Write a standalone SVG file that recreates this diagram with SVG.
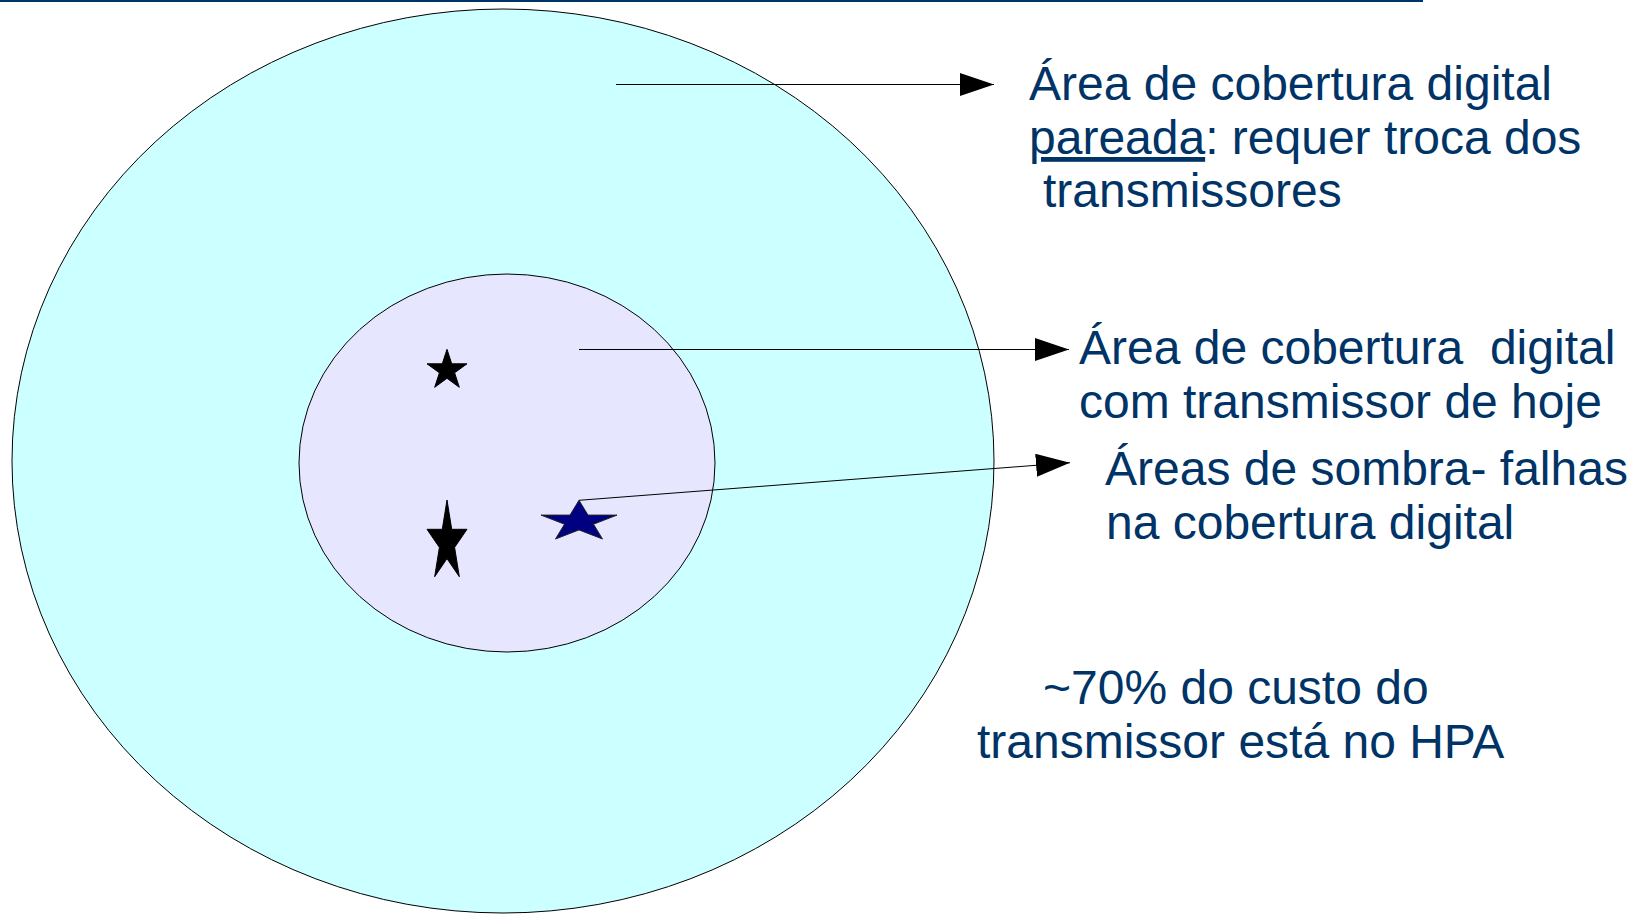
<svg xmlns="http://www.w3.org/2000/svg" width="1641" height="915" viewBox="0 0 1641 915">
<style>
.lbl{font-family:"Liberation Sans",Arial,sans-serif;font-size:48px;fill:#003366;white-space:pre}
.conn{stroke:#000;stroke-width:1;fill:none}
.star{fill:#000;stroke:#000;stroke-width:1}
</style>
<defs>
<marker id="ah" markerUnits="userSpaceOnUse" markerWidth="34" markerHeight="23" refX="34" refY="11.5" orient="auto">
<path d="M0,0 L34,11.5 L0,23 Z" fill="#000"/>
</marker>
</defs>
<rect width="1641" height="915" fill="#fff"/>
<line x1="0" y1="1" x2="1423" y2="1" stroke="#003366" stroke-width="2"/>
<g id="outer-area">
<ellipse cx="503" cy="461" rx="491" ry="452" fill="#ccffff" stroke="#000" stroke-width="1"/>
</g>
<g id="inner-area">
<ellipse cx="507" cy="463" rx="208" ry="189" fill="#e6e6ff" stroke="#000" stroke-width="1"/>
</g>
<g id="star-small">
<polygon class="star" points="447,349.3 451.7,363.8 467,363.8 454.6,372.8 459.3,387.3 447,378.3 434.7,387.3 439.4,372.8 427,363.8 442.3,363.8"/>
</g>
<g id="star-tall">
<polygon class="star" points="447,500 451.7,529.3 467,529.3 454.6,547.4 459.3,576.7 447,558.6 434.7,576.7 439.4,547.4 427,529.3 442.3,529.3"/>
</g>
<g id="star-blue">
<polygon points="579,500.3 588,515.1 617,515.1 593.5,524.2 602.5,539 579,529.9 555.5,539 564.5,524.2 541,515.1 570,515.1" fill="#000080" stroke="#222" stroke-width="1"/>
</g>
<g id="connectors">
<line class="conn" x1="616" y1="84.5" x2="994" y2="84.5" marker-end="url(#ah)"/>
<line class="conn" x1="579" y1="349.5" x2="1069" y2="349.5" marker-end="url(#ah)"/>
<line class="conn" x1="579" y1="500.3" x2="1070" y2="462.7" marker-end="url(#ah)"/>
</g>
<g id="label-paired">
<text class="lbl" x="1029" y="100">Área de cobertura digital</text>
<text class="lbl" x="1029" y="154"><tspan text-decoration="underline">pareada</tspan>: requer troca dos</text>
<text class="lbl" x="1043" y="207">transmissores</text>
</g>
<g id="label-today">
<text class="lbl" x="1079" y="364" xml:space="preserve">Área de cobertura  digital</text>
<text class="lbl" x="1079" y="418">com transmissor de hoje</text>
</g>
<g id="label-shadow">
<text class="lbl" x="1105" y="485">Áreas de sombra- falhas</text>
<text class="lbl" x="1106" y="539">na cobertura digital</text>
</g>
<g id="label-cost">
<text class="lbl" x="1043" y="704">~70% do custo do</text>
<text class="lbl" x="977" y="758">transmissor está no HPA</text>
</g>
</svg>
